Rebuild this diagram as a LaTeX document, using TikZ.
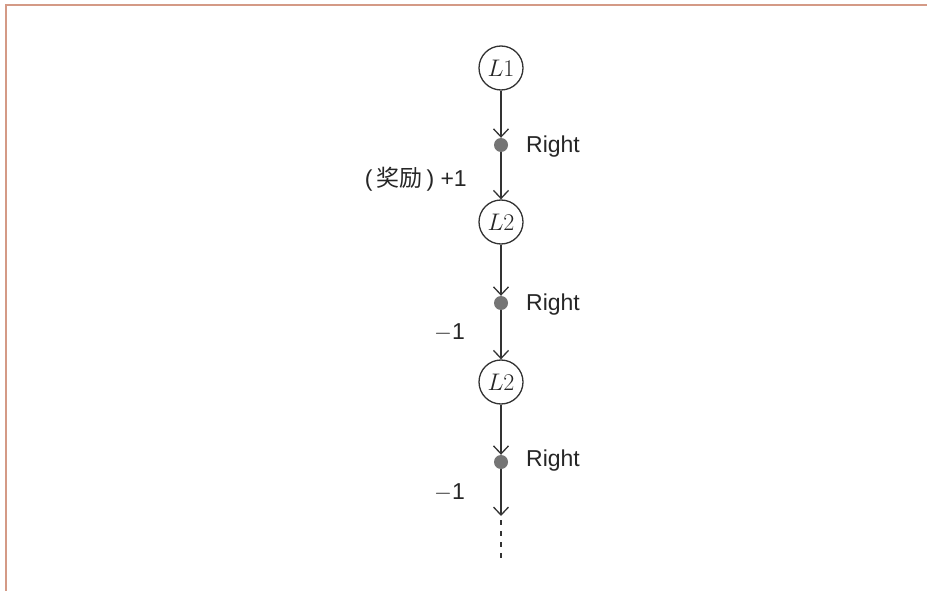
\RequirePackage{fix-cm}
\documentclass[tikz,border=0pt]{standalone}
\usepackage{fontspec}
\setmainfont{Liberation Sans}
\newfontfamily\cjk{Noto Sans CJK SC}
\usetikzlibrary{arrows.meta}
\definecolor{framecol}{HTML}{D49A86}
\definecolor{linecol}{HTML}{333333}
\definecolor{dotcol}{HTML}{757575}
\definecolor{txtcol}{HTML}{262626}
\tikzset{
  state/.style={circle, draw=linecol, line width=1.3pt, minimum size=44pt, inner sep=0pt, font=\fontsize{24}{26}\selectfont, text=txtcol},
  act/.style={circle, fill=dotcol, draw=none, minimum size=14pt, inner sep=0pt},
  lbl/.style={font=\fontsize{23}{26}\selectfont, text=txtcol, inner sep=0pt},
  flow/.style={draw=linecol, line width=1.3pt, -{Straight Barb[length=8pt,width=15pt,line width=1.3pt]}},
}
\begin{document}
\begin{tikzpicture}[x=1pt,y=-1pt]
\useasboundingbox (0,0) rectangle (927,591);
\fill[white] (0,0) rectangle (927,591);
\draw[framecol, line width=1.6pt] (6,591) -- (6,5) -- (927,5);

\node[state] (L1) at (501,68) {$L1$};
\node[act] (d1) at (501,145) {};
\node[state] (L2a) at (501,222) {$L2$};
\node[act] (d2) at (501,303) {};
\node[state] (L2b) at (501,382) {$L2$};
\node[act] (d3) at (501,462) {};
\coordinate (e1) at (501,516);
\coordinate (e2) at (501,520);
\coordinate (e3) at (501,558);

\draw[flow] (L1) -- (d1);
\draw[flow] (d1) -- (L2a);
\draw[flow] (L2a) -- (d2);
\draw[flow] (d2) -- (L2b);
\draw[flow] (L2b) -- (d3);
\draw[flow] (d3) -- (e1);
\draw[linecol, line width=1.3pt, dash pattern=on 5pt off 6pt] (e2) -- (e3);

\node[lbl, anchor=west] (r1) at (526,147) {Right};
\node[lbl, anchor=west] (r2) at (526,305) {Right};
\node[lbl, anchor=west] (r3) at (526,461) {Right};
\node[lbl, anchor=east] (w1) at (467,179) {(\kern4pt{\cjk 奖励}\kern4pt) +1};
\node[lbl, anchor=east] (w2) at (465,333) {$-$1};
\node[lbl, anchor=east] (w3) at (465,493) {$-$1};
\end{tikzpicture}
\end{document}
